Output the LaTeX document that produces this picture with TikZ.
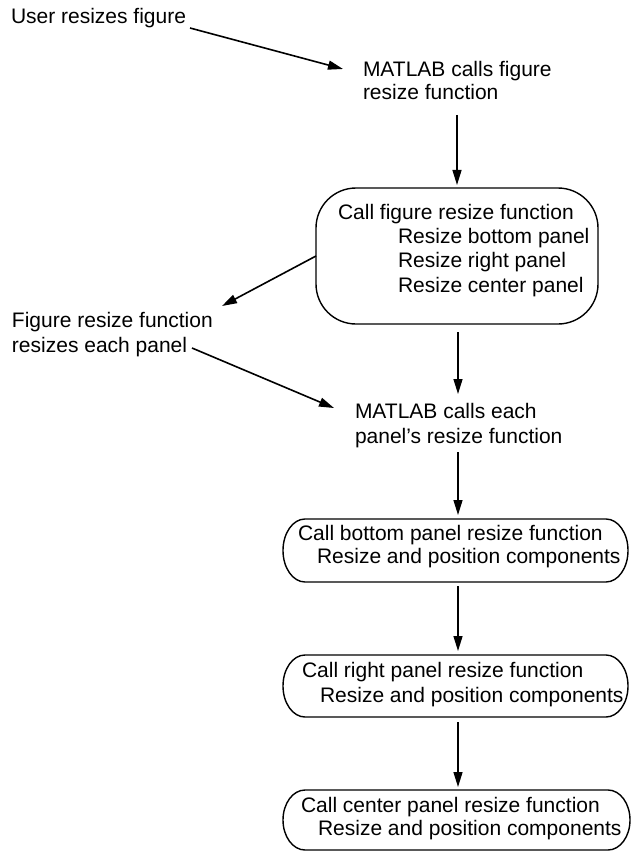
\documentclass[tikz,border=0pt]{standalone}
\usepackage{fontspec}
\setmainfont{Liberation Sans}
\usetikzlibrary{arrows.meta}
\tikzset{
  lbl/.style={anchor=base west, inner sep=0pt, outer sep=0pt, font=\fontsize{21pt}{24pt}\selectfont},
  arr/.style={line width=1.6pt, -{Triangle[length=15pt,width=9pt]}},
  varr/.style={line width=1.4pt, -{Triangle[length=15pt,width=9pt]}},
  boxline/.style={line width=1.4pt},
  frame/.style={inner sep=0pt, outer sep=0pt}
}
\newcommand\capsuleoutline[3]{%
  \draw[boxline] ([xshift=#2]#1.north west) -- ([xshift=-#2]#1.north east)
    arc[start angle=90,end angle=-90,x radius=#2,y radius=#3]
    -- ([xshift=#2]#1.south west)
    arc[start angle=270,end angle=90,x radius=#2,y radius=#3] -- cycle;}
\begin{document}
\begin{tikzpicture}[x=1pt,y=-1pt]
\useasboundingbox (0,0) rectangle (631,853);
% texts
\node[lbl] (t1) at (11,24) {User resizes figure};
\node[lbl] (t2a) at (363,77) {MATLAB calls figure};
\node[lbl] (t2b) at (363,100) {resize function};
\node[lbl] (t3a) at (12,327) {Figure resize function};
\node[lbl] (t3b) at (12,352) {resizes each panel};
\node[lbl] (t4a) at (355,418) {MATLAB calls each};
\node[lbl] (t4b) at (355,443) {panel's resize function};
% box 1
\node[frame, draw, boxline, rounded corners=40pt, minimum width=282pt, minimum height=136pt] (b1) at (457,256) {};
\node[lbl] (b1l1) at (338,219) {Call figure resize function};
\node[lbl] (b1l2) at (398,243) {Resize bottom panel};
\node[lbl] (b1l3) at (398,267) {Resize right panel};
\node[lbl] (b1l4) at (398,292) {Resize center panel};
% box 2
\node[frame, minimum width=345pt, minimum height=63pt] (b2) at (455.5,550.5) {};
\capsuleoutline{b2}{22pt}{31.5pt}
\node[lbl] (b2l1) at (298,540) {Call bottom panel resize function};
\node[lbl] (b2l2) at (317,563) {Resize and position components};
% box 3
\node[frame, minimum width=345pt, minimum height=62pt] (b3) at (455.5,686) {};
\capsuleoutline{b3}{22pt}{31pt}
\node[lbl] (b3l1) at (302,677) {Call right panel resize function};
\node[lbl] (b3l2) at (320,702) {Resize and position components};
% box 4
\node[frame, minimum width=347pt, minimum height=60pt] (b4) at (456.5,820) {};
\capsuleoutline{b4}{22pt}{30pt}
\node[lbl] (b4l1) at (301,812) {Call center panel resize function};
\node[lbl] (b4l2) at (318,835) {Resize and position components};
% connectors
\coordinate (a1s) at (190,28);
\coordinate (a1e) at (343,69);
\draw[arr] (a1s) -- (a1e);
\coordinate (v1s) at (457,115);
\draw[varr, shorten >=3pt] (v1s) -- (v1s |- b1.north);
\coordinate (d1e) at (222,306);
\draw[arr] (b1.west) -- (d1e);
\coordinate (d2s) at (192,348);
\coordinate (d2e) at (334,408);
\draw[arr] (d2s) -- (d2e);
\coordinate (v2s) at (458,332);
\coordinate (v2e) at (458,394);
\draw[varr] (v2s) -- (v2e);
\coordinate (v3s) at (458,452);
\draw[varr, shorten >=4pt] (v3s) -- (v3s |- b2.north);
\coordinate (v4s) at (458,586);
\draw[varr, shorten >=4pt] (v4s) -- (v4s |- b3.north);
\coordinate (v5s) at (458,722);
\draw[varr, shorten >=3pt] (v5s) -- (v5s |- b4.north);
\end{tikzpicture}
\end{document}
